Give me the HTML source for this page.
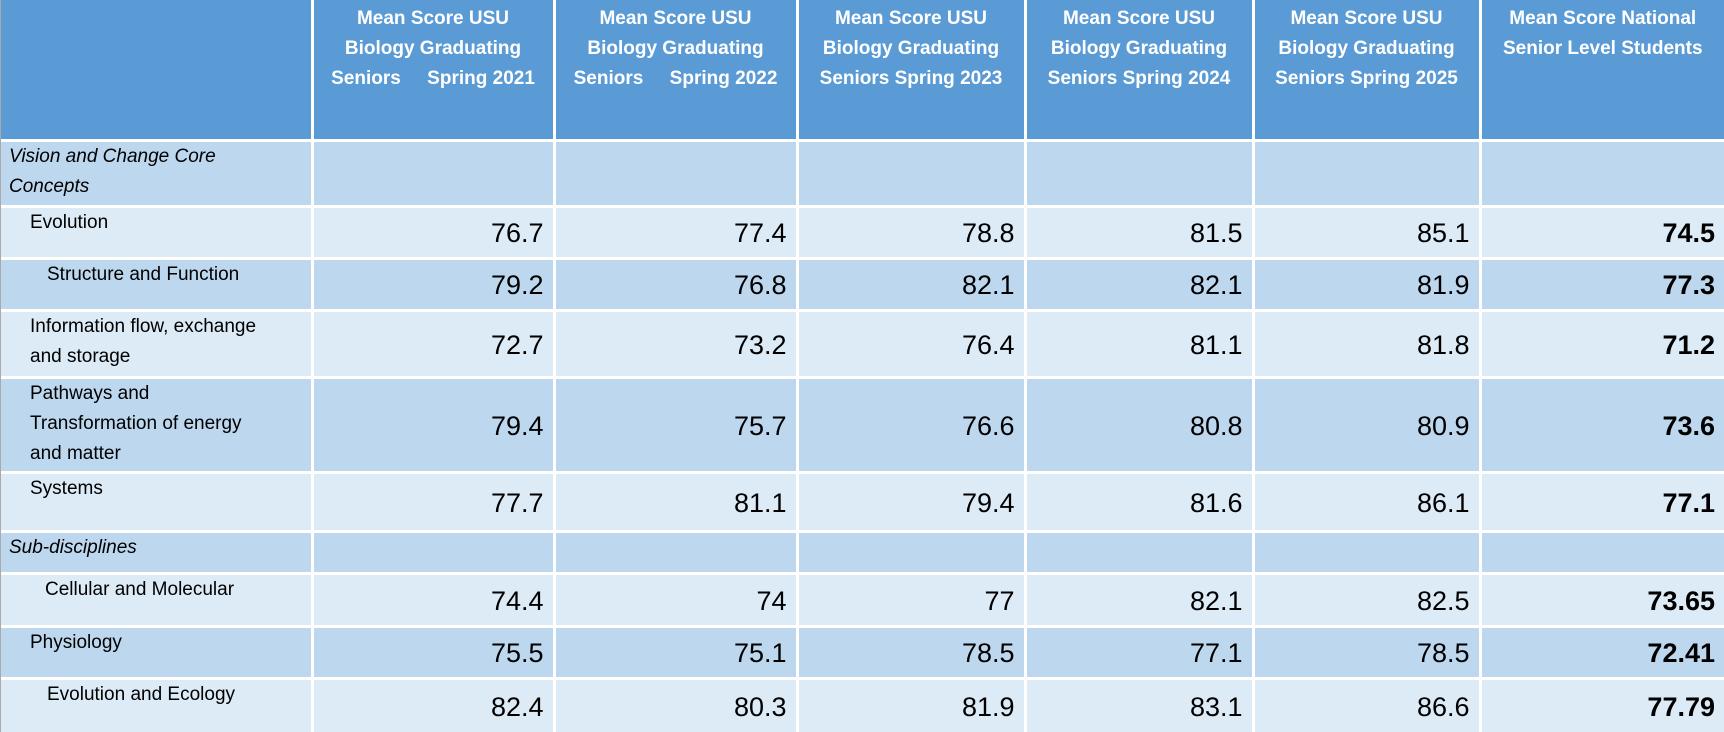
<!DOCTYPE html>
<html><head><meta charset="utf-8"><style>
body{margin:0;width:1724px;height:732px;background:#fff;position:relative;overflow:hidden;font-family:"Liberation Sans",sans-serif;}
.c{position:absolute;box-sizing:border-box;}
.h{background:#5b9bd5;color:#fff;font-size:19px;font-weight:bold;line-height:30px;text-align:center;padding-top:4px;white-space:pre;}
.d{background:#bdd7ee;}
.l{background:#ddebf7;}
.lab{font-size:19px;line-height:30px;color:#000;padding-top:0px;}
.n{font-size:27px;color:#000;text-align:right;padding-right:9px;display:flex;align-items:center;justify-content:flex-end;padding-top:3px;}
.b{font-weight:bold;}
</style></head><body>
<div id="t"></div>
<script>
var cols=[0,312,554,797,1025,1253,1480,1724];
var rows=[0,140,206,258,310,377,472,531,573,626,678,732];
var g=3;
var hdr=["","Mean Score USU\nBiology Graduating\nSeniors     Spring 2021","Mean Score USU\nBiology Graduating\nSeniors     Spring 2022","Mean Score USU\nBiology Graduating\nSeniors Spring 2023","Mean Score USU\nBiology Graduating\nSeniors Spring 2024","Mean Score USU\nBiology Graduating\nSeniors Spring 2025","Mean Score National\nSenior Level Students"];
var data=[
[["Vision and Change Core<br>Concepts",8,1],null,"d"],
[["Evolution",29],["76.7","77.4","78.8","81.5","85.1","74.5"],"l"],
[["Structure and Function",46],["79.2","76.8","82.1","82.1","81.9","77.3"],"d"],
[["Information flow, exchange<br>and storage",29],["72.7","73.2","76.4","81.1","81.8","71.2"],"l"],
[["Pathways and<br>Transformation of energy<br>and matter",29],["79.4","75.7","76.6","80.8","80.9","73.6"],"d"],
[["Systems",29],["77.7","81.1","79.4","81.6","86.1","77.1"],"l"],
[["Sub-disciplines",8,1],null,"d"],
[["Cellular and Molecular",44],["74.4","74","77","82.1","82.5","73.65"],"l"],
[["Physiology",29],["75.5","75.1","78.5","77.1","78.5","72.41"],"d"],
[["Evolution and Ecology",46],["82.4","80.3","81.9","83.1","86.6","77.79"],"l"]];
var h="";
function box(ci,ri,cls,style,inner){
 var x=cols[ci]+(ci?g/2:1),w=cols[ci+1]-cols[ci]-(ci?g:g/2+1)+(ci==6?g/2:0);
 var y=rows[ri]+(ri?g/2:0),hh=rows[ri+1]-rows[ri]-(ri?g:g/2)+(ri==10?g/2:0);
 h+='<div class="c '+cls+'" style="left:'+x+'px;top:'+y+'px;width:'+w+'px;height:'+hh+'px;'+style+'">'+inner+'</div>';
}
for(var c=0;c<7;c++)box(c,0,"h","",hdr[c]);
data.forEach(function(r,i){
 var ri=i+1;
 box(0,ri,r[2]+" lab","padding-left:"+r[0][1]+"px;"+(r[0][2]?"font-style:italic;":""),r[0][0]);
 for(var c=1;c<7;c++)box(c,ri,r[2]+(r[1]?" n":"")+(c==6?" b":""),"",r[1]?r[1][c-1]:"");
});
document.getElementById("t").innerHTML=h;
</script>
<div style="position:absolute;left:0;top:0;width:1px;height:732px;background:#aaa"></div>
</body></html>
